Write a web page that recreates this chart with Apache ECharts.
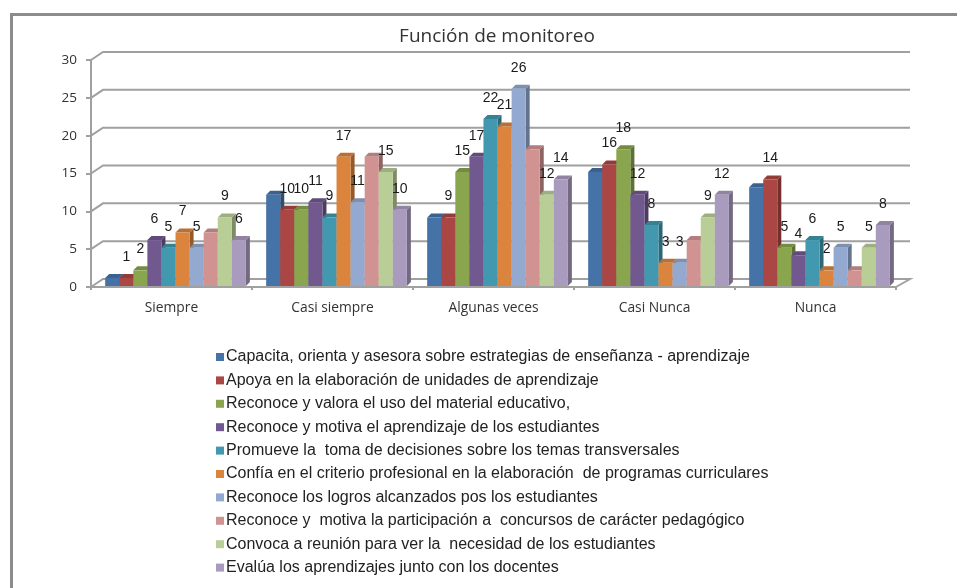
<!DOCTYPE html>
<html>
<head>
<meta charset="utf-8">
<style>
  html, body { margin: 0; padding: 0; background: #fff; }
  #chart { width: 957px; height: 588px; }
</style>
<script src="https://cdn.jsdelivr.net/npm/echarts@6/dist/echarts.min.js"></script>
</head>
<body>
<div id="chart"></div>
<script>
const chartTitle = 'Función de monitoreo'
const categories = ['Siempre', 'Casi siempre', 'Algunas veces', 'Casi Nunca', 'Nunca']
const yTicks = [0, 5, 10, 15, 20, 25, 30]

const seriesNames = [
  'Capacita, orienta y asesora sobre estrategias de enseñanza - aprendizaje',
  'Apoya en la elaboración de unidades de aprendizaje',
  'Reconoce y valora el uso del material educativo,',
  'Reconoce y motiva el aprendizaje de los estudiantes',
  'Promueve la  toma de decisiones sobre los temas transversales',
  'Confía en el criterio profesional en la elaboración  de programas curriculares',
  'Reconoce los logros alcanzados pos los estudiantes',
  'Reconoce y  motiva la participación a  concursos de carácter pedagógico',
  'Convoca a reunión para ver la  necesidad de los estudiantes',
  'Evalúa los aprendizajes junto con los docentes'
]

const capacita = [1, 12, 9, 15, 13]
const apoya = [1, 10, 9, 16, 14]
const valora = [2, 10, 15, 18, 5]
const motiva = [6, 11, 17, 12, 4]
const promueve = [5, 9, 22, 8, 6]
const confia = [7, 17, 21, 3, 2]
const logros = [5, 11, 26, 3, 5]
const concursos = [7, 17, 18, 6, 2]
const convoca = [9, 15, 12, 9, 5]
const evalua = [6, 10, 14, 12, 8]
const allValues = [capacita, apoya, valora, motiva, promueve, confia, logros, concursos, convoca, evalua]

// the first and the eighth series have no value labels in the original
const hasLabel = [false, true, true, true, true, true, true, false, true, true]

const colors = ['#4572A7', '#AA4643', '#89A54E', '#71588F', '#4198AF', '#DB843D', '#93A9CF', '#D19392', '#B9CD96', '#A99BBD']

const wallDx = 13
const wallDy = -8
const barDx = 4
const barDy = -4
const barShare = 0.0874
const groupShift = 0.025
const lineColor = '#a0a0a0'

function shade(hex, k) {
  const n = parseInt(hex.slice(1), 16)
  const c = [n >> 16, (n >> 8) & 255, n & 255].map(v => Math.round(v * k))
  return 'rgb(' + c.join(',') + ')'
}

function renderBar(index) {
  return function (params, api) {
    const cat = api.value(0)
    const val = api.value(1)
    const band = api.size([1, 0])[0]
    const w = band * barShare
    const center = api.coord([cat, 0])[0] + band * groupShift
    const x = center + (index - 5) * w
    const top = api.coord([cat, val])[1] - 1.5
    const base = api.coord([cat, 0])[1] - 1
    const c = colors[index]
    const children = [
      { type: 'polygon', shape: { points: [[x + w, top], [x + w + barDx, top + barDy], [x + w + barDx, base + barDy], [x + w, base]] }, style: { fill: shade(c, 0.68) } },
      { type: 'polygon', shape: { points: [[x, top], [x + barDx, top + barDy], [x + w + barDx, top + barDy], [x + w, top]] }, style: { fill: shade(c, 0.85) } },
      { type: 'rect', shape: { x: x, y: top, width: w, height: base - top }, style: { fill: c } }
    ]
    if (hasLabel[index]) {
      children.push({
        type: 'text',
        z2: 100,
        style: {
          x: x + w / 2,
          y: top - 21,
          text: String(val),
          fill: '#1a1a1a',
          font: '14px "Liberation Sans"',
          align: 'center',
          verticalAlign: 'middle'
        }
      })
    }
    return { type: 'group', children: children }
  }
}

// back wall, side wall and floor lines, one per y tick
function renderWall(params, api) {
  const y = api.coord([0, api.value(0)])[1]
  const left = params.coordSys.x
  const right = left + params.coordSys.width
  const points = [[left, y], [left + wallDx - 1, y + wallDy], [right + wallDx + 1, y + wallDy]]
  if (api.value(0) === 0) points.push([right, y])
  return {
    type: 'polyline',
    shape: { points: points },
    style: { fill: null, stroke: lineColor, lineWidth: 2 }
  }
}

const chart = echarts.init(document.getElementById('chart'), null, { renderer: 'canvas' })

chart.setOption({
  animation: false,
  backgroundColor: '#fff',
  title: {
    text: chartTitle,
    left: 492,
    top: 22,
    textAlign: 'center',
    textStyle: { fontFamily: 'Open Sans', fontSize: 19, fontWeight: 'normal', color: '#333' }
  },
  graphic: [{
    type: 'rect',
    silent: true,
    shape: { x: 11.5, y: 14.5, width: 1000, height: 1000 },
    style: { fill: null, stroke: '#8c8c8c', lineWidth: 3 }
  }],
  legend: {
    orient: 'vertical',
    left: 211,
    top: 344,
    itemWidth: 8,
    itemHeight: 8,
    itemGap: 7.4,
    icon: 'rect',
    data: seriesNames,
    selectedMode: false,
    textStyle: { fontFamily: 'Liberation Sans', fontSize: 16, color: '#222', padding: [0, 0, 0, -3] }
  },
  grid: { left: 91, right: 61, top: 60, bottom: 301 },
  xAxis: {
    type: 'category',
    data: categories,
    axisLine: { lineStyle: { color: lineColor, width: 2 } },
    axisTick: { show: true, alignWithLabel: false, length: 3, lineStyle: { color: lineColor, width: 2 } },
    axisLabel: { fontFamily: 'Open Sans', fontSize: 13.8, color: '#333', margin: 14 }
  },
  yAxis: {
    type: 'value',
    min: 0,
    max: 30,
    interval: 5,
    axisLine: { show: true, lineStyle: { color: lineColor, width: 2 } },
    axisTick: { show: true, length: 5, lineStyle: { color: lineColor, width: 2 } },
    splitLine: { show: false },
    axisLabel: { fontFamily: 'Open Sans', fontSize: 13.5, color: '#333', margin: 14 }
  },
  series: [{
    type: 'custom',
    silent: true,
    z: 1,
    coordinateSystem: 'cartesian2d',
    data: yTicks.map(t => [t]),
    encode: { y: 0 },
    renderItem: renderWall
  }].concat(seriesNames.map((name, i) => ({
    type: 'custom',
    name: name,
    z: 2,
    itemStyle: { color: colors[i] },
    coordinateSystem: 'cartesian2d',
    data: allValues[i].map((v, c) => [c, v]),
    encode: { x: 0, y: 1 },
    renderItem: renderBar(i)
  })))
})
</script>
</body>
</html>
